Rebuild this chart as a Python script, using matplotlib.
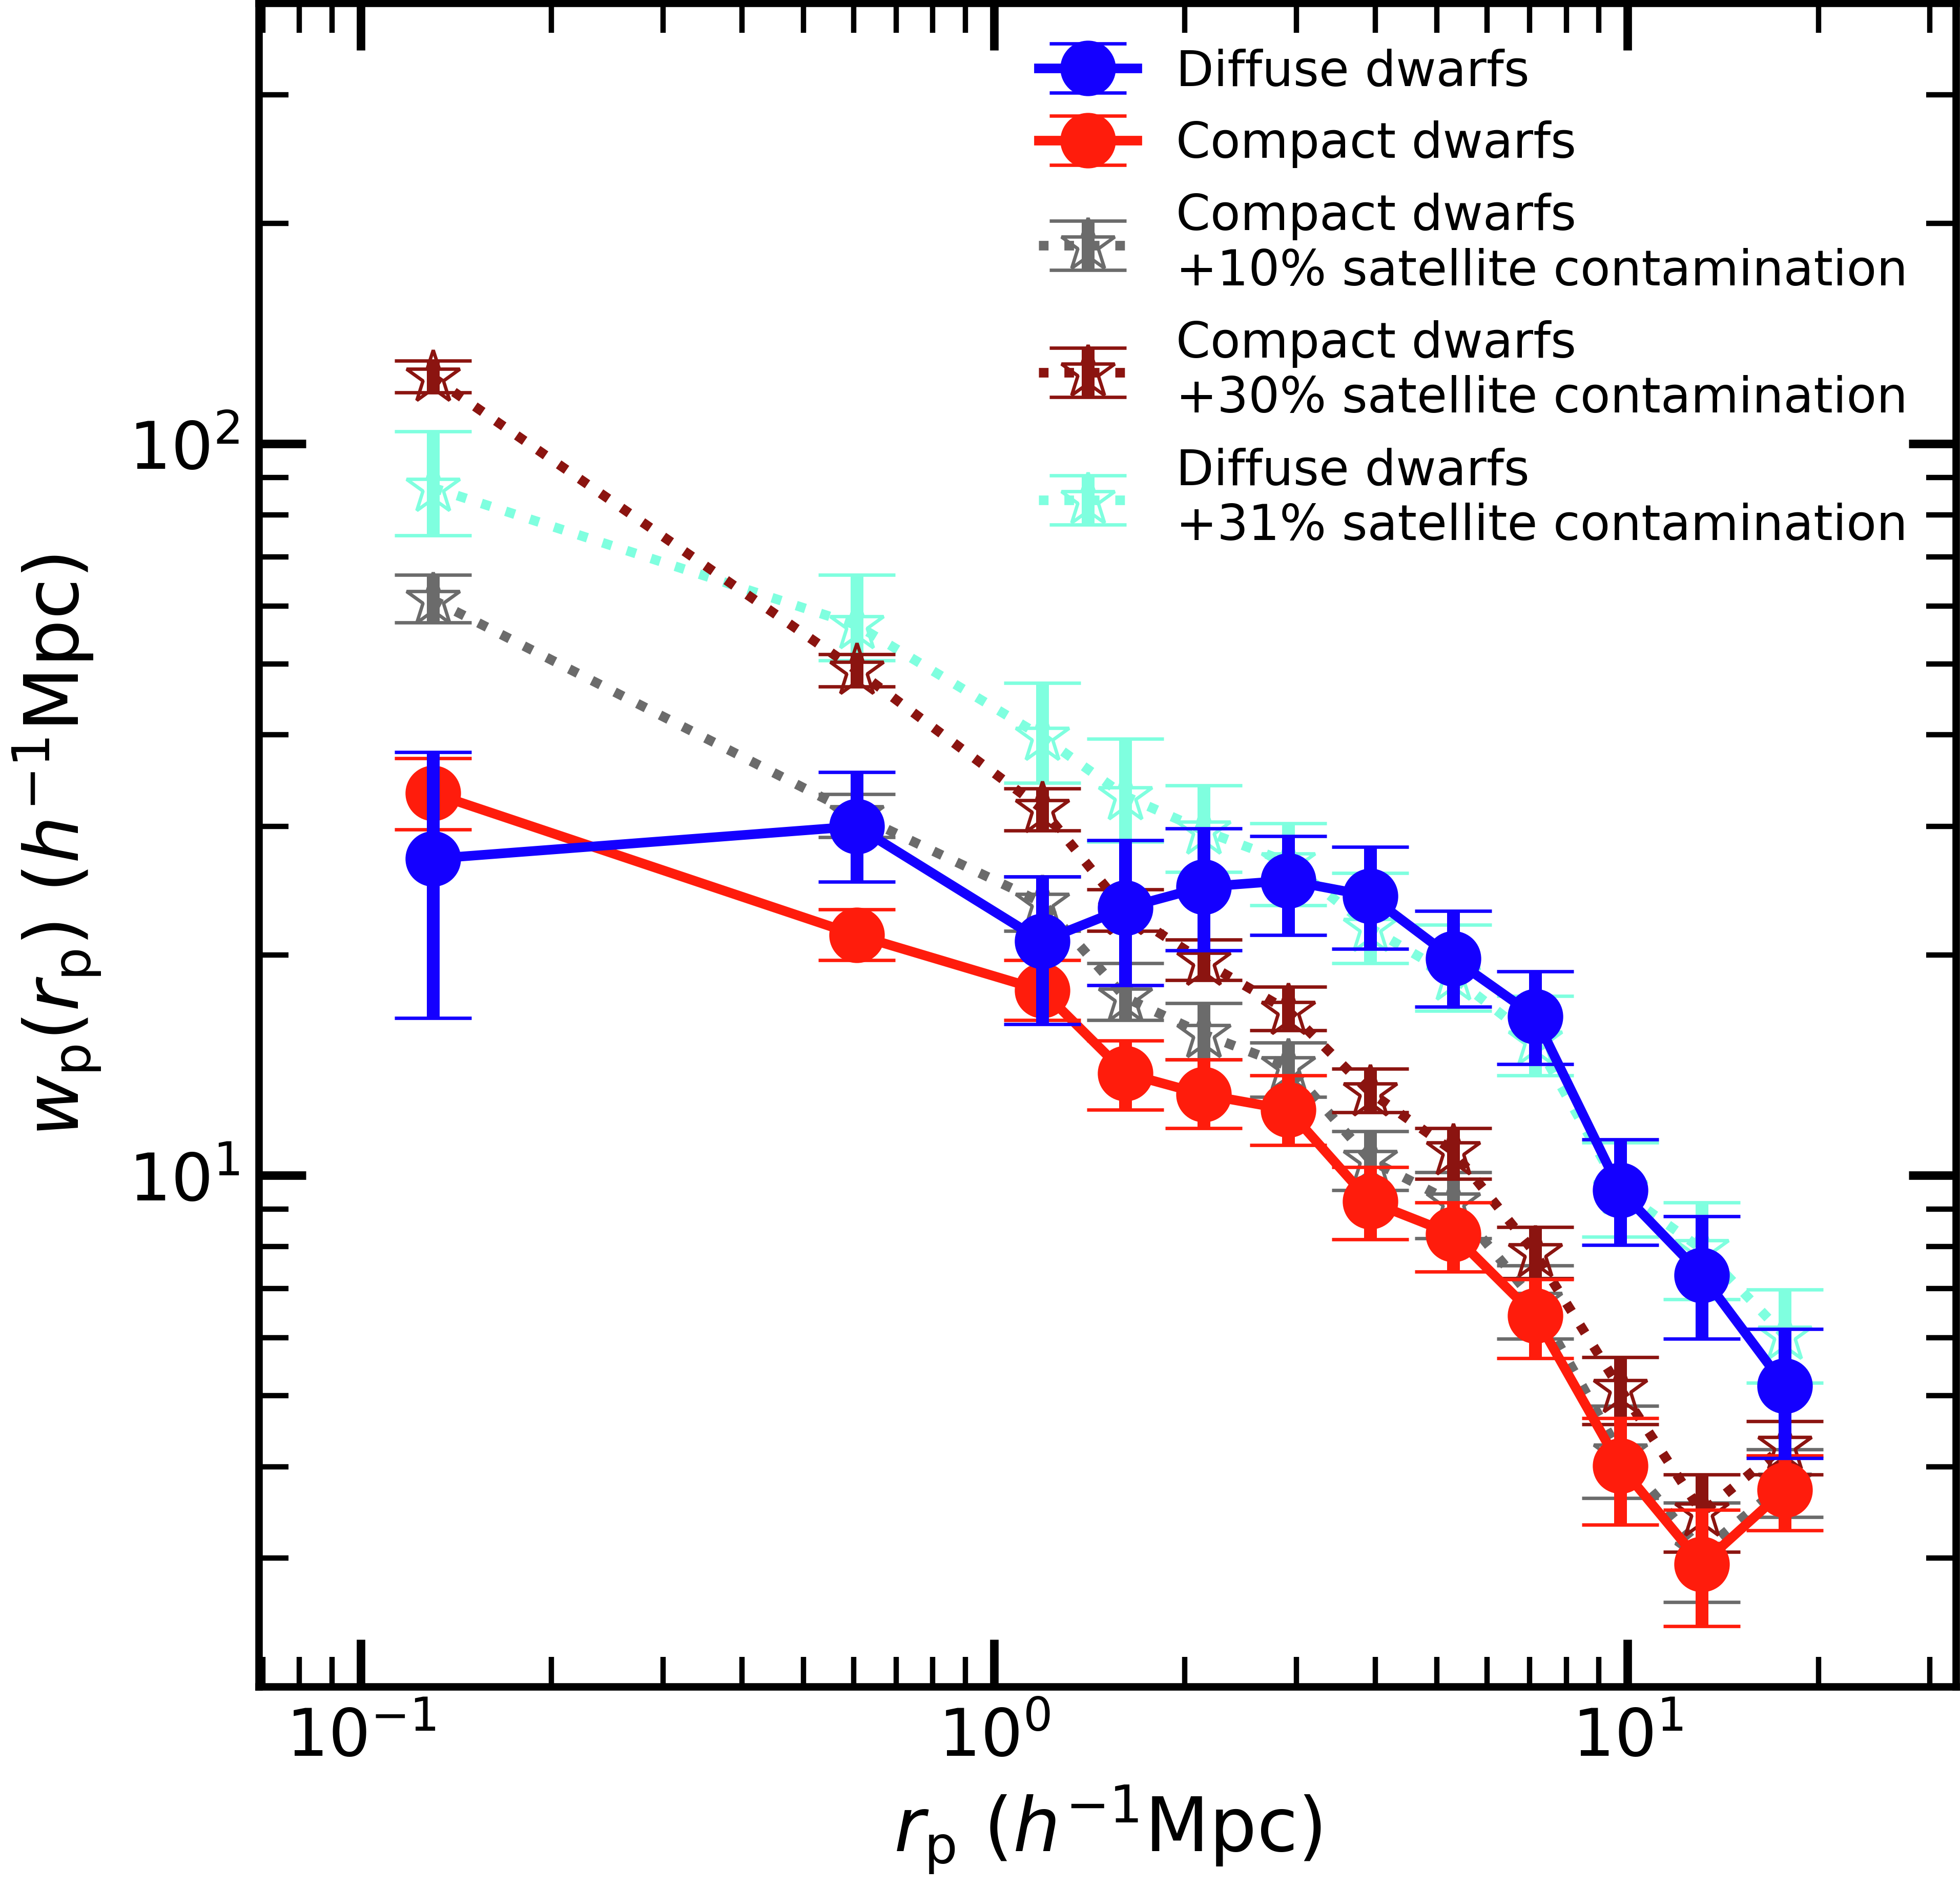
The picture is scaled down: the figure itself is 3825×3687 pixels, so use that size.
import numpy as np
import matplotlib
matplotlib.use('Agg')
import matplotlib.pyplot as plt

### Data ###
rp = [0.130, 0.607, 1.19, 1.61, 2.14, 2.91, 3.92, 5.30, 7.14, 9.73, 13.1, 17.7]

# Diffuse dwarfs
wp_dif = [27.1, 30.0, 20.9, 23.2, 24.8, 25.3, 24.1, 19.8, 16.5, 9.54, 7.31, 5.16]
dif_lo = [16.4, 25.2, 16.1, 18.2, 20.3, 21.3, 20.4, 17.0, 14.2, 8.04, 5.98, 4.11]
dif_hi = [37.9, 35.6, 25.6, 28.7, 29.8, 29.1, 28.1, 23.0, 19.0, 11.2, 8.80, 6.17]

# Compact dwarfs
wp_cmp = [33.3, 21.3, 17.9, 13.8, 12.9, 12.3, 9.21, 8.31, 6.43, 4.01, 2.94, 3.72]
cmp_lo = [29.7, 19.7, 16.3, 12.3, 11.6, 11.0, 8.18, 7.39, 5.63, 3.33, 2.42, 3.27]
cmp_hi = [37.2, 23.1, 19.7, 15.3, 14.4, 13.7, 10.26, 9.18, 7.21, 4.66, 3.49, 4.14]

# Compact +10% satellites
wp_c10 = [61.2, 31.1, 23.6, 17.5, 15.6, 14.1, 10.5, 9.18, 6.72, 4.17, 3.06, 3.80]
c10_lo = [57.0, 29.0, 21.6, 16.3, 14.4, 12.8, 9.54, 8.21, 5.98, 3.62, 2.61, 3.41]
c10_hi = [66.2, 33.2, 25.6, 19.5, 17.2, 15.2, 11.5, 10.1, 7.53, 4.84, 3.57, 4.22]

# Compact +30% satellites
wp_c30 = [123.2, 49.0, 31.7, 23.0, 19.6, 16.8, 13.0, 10.8, 7.83, 5.11, 3.46, 4.27]
c30_lo = [117.5, 46.6, 29.6, 21.6, 18.5, 15.8, 12.2, 9.89, 7.24, 4.57, 3.06, 3.90]
c30_hi = [130.0, 51.6, 33.8, 24.6, 21.0, 18.1, 14.0, 11.6, 8.50, 5.64, 3.90, 4.61]

# Diffuse +31% satellites
wp_d31 = [87.1, 56.5, 39.8, 33.0, 29.6, 26.8, 21.8, 18.7, 15.3, 9.54, 7.93, 6.04]
d31_lo = [75.0, 50.6, 34.4, 28.6, 26.0, 23.4, 19.5, 16.8, 13.7, 8.25, 6.77, 5.21]
d31_hi = [104.0, 66.2, 47.1, 39.5, 34.1, 30.3, 25.9, 22.0, 17.6, 11.1, 9.19, 6.98]


def yerr(y, lo, hi):
    y = np.array(y)
    return [y - np.array(lo), np.array(hi) - y]


### Plot ###
fig = plt.figure(figsize=(12.75, 12.293), dpi=300)
ax = fig.add_axes([0.132, 0.107, 0.866, 0.891])

star_kw = dict(fmt='*', ls=':', lw=4.5, ms=26, mfc='none', mew=1.6,
               elinewidth=6, capsize=18, capthick=1.6)
h_c10 = ax.errorbar(rp, wp_c10, yerr=yerr(wp_c10, c10_lo, c10_hi), color='#6b6b6b',
                    zorder=2, **star_kw)
h_c30 = ax.errorbar(rp, wp_c30, yerr=yerr(wp_c30, c30_lo, c30_hi), color='#8b1410',
                    zorder=2.1, **star_kw)
h_d31 = ax.errorbar(rp, wp_d31, yerr=yerr(wp_d31, d31_lo, d31_hi), color='#7fffdf',
                    zorder=1.9, **star_kw)

dot_kw = dict(fmt='o-', lw=4.5, ms=25, elinewidth=6, capsize=18, capthick=1.6)
h_cmp = ax.errorbar(rp, wp_cmp, yerr=yerr(wp_cmp, cmp_lo, cmp_hi), color='#ff1c0c',
                    zorder=3, **dot_kw)
h_dif = ax.errorbar(rp, wp_dif, yerr=yerr(wp_dif, dif_lo, dif_hi), color='#1400ff',
                    zorder=3.1, **dot_kw)

ax.set_xscale('log')
ax.set_yscale('log')
ax.set_xlim(0.069, 33)
ax.set_ylim(2.0, 400)

ax.set_xlabel(r'$r_{\rm p}$ $(h^{-1}{\rm Mpc})$', fontsize=35, labelpad=6)
ax.set_ylabel(r'$w_{\rm p}(r_{\rm p})$ $(h^{-1}{\rm Mpc})$', fontsize=35, labelpad=12)

ax.tick_params(which='both', direction='in', top=True, right=True)
ax.tick_params(which='major', length=22, width=4, labelsize=31, pad=9)
ax.tick_params(which='minor', length=14, width=2.5)
for s in ax.spines.values():
    s.set_linewidth(3.5)

ax.legend([h_dif, h_cmp, h_c10, h_c30, h_d31],
          ['Diffuse dwarfs', 'Compact dwarfs',
           'Compact dwarfs\n+10% satellite contamination',
           'Compact dwarfs\n+30% satellite contamination',
           'Diffuse dwarfs\n+31% satellite contamination'],
          loc='upper right', bbox_to_anchor=(0.989, 0.991), frameon=False,
          fontsize=23, borderaxespad=0.2, labelspacing=0.5, handletextpad=0.8)

fig.savefig('out.png', dpi=300)
